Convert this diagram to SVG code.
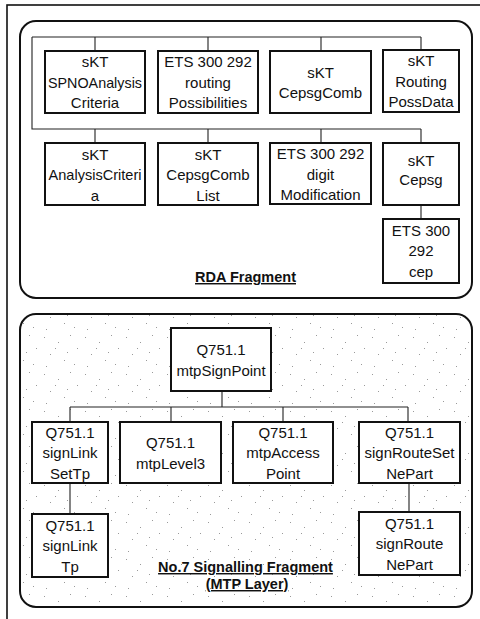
<svg xmlns="http://www.w3.org/2000/svg" width="480" height="619" viewBox="0 0 480 619">
  <style>
    .frame { fill: none; stroke: #111; stroke-width: 1.6; }
    .group { fill: none; stroke: #111; stroke-width: 2; }
    .box { fill: #fff; stroke: #111; stroke-width: 2; }
    .conn { fill: none; stroke: #222; stroke-width: 1.1; }
    .t { font-family: "Liberation Sans", Arial, sans-serif; font-size: 15px; fill: #111; text-anchor: middle; }
    .lbl { font-family: "Liberation Sans", Arial, sans-serif; font-size: 14.5px; font-weight: bold; fill: #111; text-anchor: middle; text-decoration: underline; }
  </style>
  <defs>
    <pattern id="speckle" width="41" height="37" patternUnits="userSpaceOnUse">
      <rect width="41" height="37" fill="#fff"/>
      <g fill="#9a9a9a">
        <rect x="3" y="4" width="1" height="1"/>
        <rect x="17" y="9" width="1" height="1"/>
        <rect x="29" y="2" width="1" height="1"/>
        <rect x="36" y="15" width="1" height="1"/>
        <rect x="9" y="21" width="1" height="1"/>
        <rect x="23" y="27" width="1" height="1"/>
        <rect x="33" y="31" width="1" height="1"/>
        <rect x="5" y="33" width="1" height="1"/>
        <rect x="14" y="15" width="1" height="1"/>
        <rect x="26" y="19" width="1" height="1"/>
      </g>
    </pattern>
  </defs>

  <!-- outer frame (open at right/bottom) -->
  <rect class="frame" x="7" y="5" width="520" height="700"/>

  <!-- group containers -->
  <rect id="rda-fragment" class="group" x="20" y="21" width="452" height="277" rx="16" ry="16"/>
  <rect id="mtp-fragment" class="group" x="20" y="314" width="452" height="293" rx="16" ry="16" style="fill:url(#speckle)"/>

  <!-- connectors -->
  <g id="connectors">
    <path class="conn" d="M32 37 H421 M32 37 V129 H421 M95 37 V51 M208 37 V51 M321 37 V51 M421 37 V51 M95 129 V143 M208 129 V143 M321 129 V143 M421 129 V143 M421 205 V219"/>
    <path class="conn" d="M222 391 V407 M70 407 H408 M70 407 V422 M171 407 V422 M283 407 V422 M408 407 V422 M70 483 V514 M409 483 V512"/>
  </g>

  <!-- RDA nodes -->
  <g id="n-spno">
    <rect class="box" x="45" y="51" width="100" height="62"/>
    <text class="t" x="95" y="67">sKT</text>
    <text class="t" x="95" y="87.5" textLength="94" lengthAdjust="spacingAndGlyphs">SPNOAnalysis</text>
    <text class="t" x="95" y="108">Criteria</text>
  </g>
  <g id="n-routing">
    <rect class="box" x="158" y="51" width="100" height="62"/>
    <text class="t" x="208" y="67">ETS 300 292</text>
    <text class="t" x="208" y="87.5">routing</text>
    <text class="t" x="208" y="108">Possibilities</text>
  </g>
  <g id="n-cepsgcomb">
    <rect class="box" x="270" y="51" width="101" height="62"/>
    <text class="t" x="320.5" y="78">sKT</text>
    <text class="t" x="320.5" y="98">CepsgComb</text>
  </g>
  <g id="n-posdata">
    <rect class="box" x="383" y="50" width="76" height="62"/>
    <text class="t" x="421" y="66">sKT</text>
    <text class="t" x="421" y="86.5">Routing</text>
    <text class="t" x="421" y="107">PossData</text>
  </g>
  <g id="n-analysis">
    <rect class="box" x="45" y="143" width="100" height="62"/>
    <text class="t" x="95" y="159.5">sKT</text>
    <text class="t" x="95" y="180" textLength="93" lengthAdjust="spacingAndGlyphs">AnalysisCriteri</text>
    <text class="t" x="95" y="200.5">a</text>
  </g>
  <g id="n-comblist">
    <rect class="box" x="158" y="143" width="100" height="62"/>
    <text class="t" x="208" y="159.5">sKT</text>
    <text class="t" x="208" y="180">CepsgComb</text>
    <text class="t" x="208" y="200.5">List</text>
  </g>
  <g id="n-digit">
    <rect class="box" x="270" y="143" width="101" height="61"/>
    <text class="t" x="320.5" y="159">ETS 300 292</text>
    <text class="t" x="320.5" y="179.5">digit</text>
    <text class="t" x="320.5" y="200">Modification</text>
  </g>
  <g id="n-cepsg">
    <rect class="box" x="383" y="143" width="76" height="62"/>
    <text class="t" x="421" y="166">sKT</text>
    <text class="t" x="421" y="185">Cepsg</text>
  </g>
  <g id="n-cep">
    <rect class="box" x="383" y="219" width="76" height="64"/>
    <text class="t" x="421" y="235.5">ETS 300</text>
    <text class="t" x="421" y="256">292</text>
    <text class="t" x="421" y="276.5">cep</text>
  </g>
  <text class="lbl" x="245.5" y="282">RDA Fragment</text>

  <!-- MTP nodes -->
  <g id="n-signpoint">
    <rect class="box" x="171" y="328" width="100" height="63"/>
    <text class="t" x="221" y="355">Q751.1</text>
    <text class="t" x="221" y="375.5">mtpSignPoint</text>
  </g>
  <g id="n-linkset">
    <rect class="box" x="32" y="422" width="76" height="61"/>
    <text class="t" x="70" y="437.5">Q751.1</text>
    <text class="t" x="70" y="458">signLink</text>
    <text class="t" x="70" y="478.5">SetTp</text>
  </g>
  <g id="n-level3">
    <rect class="box" x="120" y="422" width="101" height="61"/>
    <text class="t" x="170.5" y="448">Q751.1</text>
    <text class="t" x="170.5" y="468.5">mtpLevel3</text>
  </g>
  <g id="n-access">
    <rect class="box" x="233" y="422" width="100" height="61"/>
    <text class="t" x="283" y="437.5">Q751.1</text>
    <text class="t" x="283" y="458">mtpAccess</text>
    <text class="t" x="283" y="478.5">Point</text>
  </g>
  <g id="n-routeset">
    <rect class="box" x="359" y="422" width="101" height="61"/>
    <text class="t" x="409.5" y="437.5">Q751.1</text>
    <text class="t" x="409.5" y="458">signRouteSet</text>
    <text class="t" x="409.5" y="478.5">NePart</text>
  </g>
  <g id="n-linktp">
    <rect class="box" x="32" y="514" width="76" height="63"/>
    <text class="t" x="70" y="530.5">Q751.1</text>
    <text class="t" x="70" y="551">signLink</text>
    <text class="t" x="70" y="571.5">Tp</text>
  </g>
  <g id="n-routenepart">
    <rect class="box" x="359" y="512" width="101" height="63"/>
    <text class="t" x="409.5" y="528.5">Q751.1</text>
    <text class="t" x="409.5" y="549">signRoute</text>
    <text class="t" x="409.5" y="569.5">NePart</text>
  </g>
  <text class="lbl" x="245.5" y="572">No.7 Signalling Fragment</text>
  <text class="lbl" x="247" y="589">(MTP Layer)</text>
</svg>
